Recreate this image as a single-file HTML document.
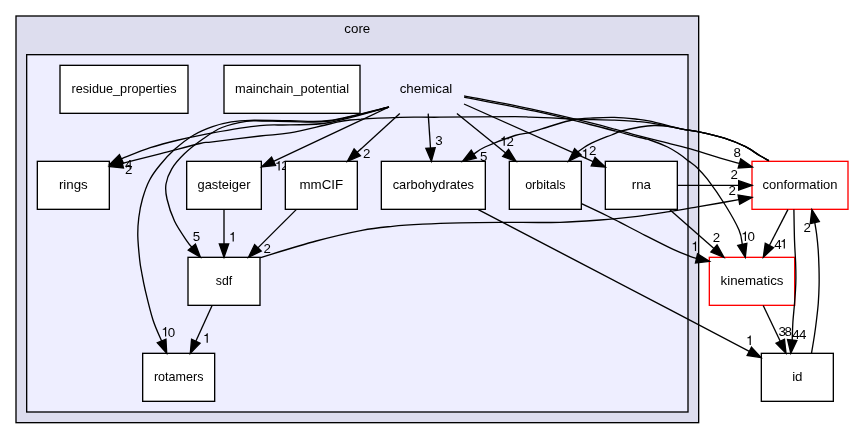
<!DOCTYPE html>
<html><head><meta charset="utf-8"><title>core/chemical</title>
<style>html,body{margin:0;padding:0;background:#fff;}svg{display:block;will-change:transform;}</style>
</head><body>
<svg width="853" height="439" viewBox="0 0 853 439">
<rect x="0" y="0" width="853" height="439" fill="white"/>
<rect x="16.00" y="16.00" width="682.67" height="406.67" fill="#ddddee" stroke="black" stroke-width="1.333"/>
<rect x="26.67" y="54.67" width="661.33" height="357.33" fill="#eeeeff" stroke="black" stroke-width="1.333"/>
<g font-family="Liberation Sans, sans-serif" font-size="13.33px" fill="black" style="will-change:transform">
<text x="357.33" y="33.20" text-anchor="middle">core</text>
<text x="125.00" y="168.90">4</text>
<text x="125.00" y="173.50">2</text>
<path transform="translate(274.90,170.40) scale(0.013333,-0.013333)" d="M359,0 L271,0 L271,505 L101,505 L101,568 C190,572 250,600 292,709 L359,709 Z"/>
<text x="281.30" y="170.40">2</text>
<text x="363.00" y="157.70">2</text>
<text x="435.20" y="145.40">3</text>
<path transform="translate(500.00,145.70) scale(0.013333,-0.013333)" d="M359,0 L271,0 L271,505 L101,505 L101,568 C190,572 250,600 292,709 L359,709 Z"/>
<text x="506.40" y="145.70">2</text>
<text x="480.00" y="161.00">5</text>
<path transform="translate(581.50,158.20) scale(0.013333,-0.013333)" d="M359,0 L271,0 L271,505 L101,505 L101,568 C190,572 250,600 292,709 L359,709 Z"/>
<text x="589.00" y="155.00">2</text>
<text x="733.60" y="156.70">8</text>
<text x="730.50" y="179.00">2</text>
<text x="728.50" y="195.30">2</text>
<text x="192.80" y="241.00">5</text>
<path transform="translate(229.00,241.50) scale(0.013333,-0.013333)" d="M359,0 L271,0 L271,505 L101,505 L101,568 C190,572 250,600 292,709 L359,709 Z"/>
<text x="263.60" y="252.80">2</text>
<path transform="translate(161.40,336.50) scale(0.013333,-0.013333)" d="M359,0 L271,0 L271,505 L101,505 L101,568 C190,572 250,600 292,709 L359,709 Z"/>
<text x="167.80" y="336.50">0</text>
<path transform="translate(203.00,342.80) scale(0.013333,-0.013333)" d="M359,0 L271,0 L271,505 L101,505 L101,568 C190,572 250,600 292,709 L359,709 Z"/>
<text x="712.70" y="242.40">2</text>
<path transform="translate(741.20,241.00) scale(0.013333,-0.013333)" d="M359,0 L271,0 L271,505 L101,505 L101,568 C190,572 250,600 292,709 L359,709 Z"/>
<text x="747.60" y="241.00">0</text>
<text x="774.30" y="248.50">4</text>
<path transform="translate(780.10,248.50) scale(0.013333,-0.013333)" d="M359,0 L271,0 L271,505 L101,505 L101,568 C190,572 250,600 292,709 L359,709 Z"/>
<text x="803.40" y="232.30">2</text>
<path transform="translate(691.30,251.00) scale(0.013333,-0.013333)" d="M359,0 L271,0 L271,505 L101,505 L101,568 C190,572 250,600 292,709 L359,709 Z"/>
<path transform="translate(746.00,345.00) scale(0.013333,-0.013333)" d="M359,0 L271,0 L271,505 L101,505 L101,568 C190,572 250,600 292,709 L359,709 Z"/>
<text x="778.50" y="336.10">3</text>
<text x="784.60" y="336.10">8</text>
<text x="792.30" y="339.20">4</text>
<text x="799.00" y="339.20">4</text>
<rect x="60.00" y="65.33" width="128.00" height="48.00" fill="white" stroke="black" stroke-width="1.333"/>
<text x="124.00" y="92.93" text-anchor="middle" textLength="105.0" lengthAdjust="spacingAndGlyphs">residue_properties</text>
<rect x="224.00" y="65.33" width="136.00" height="48.00" fill="white" stroke="black" stroke-width="1.333"/>
<text x="292.00" y="92.93" text-anchor="middle" textLength="114.0" lengthAdjust="spacingAndGlyphs">mainchain_potential</text>
<text x="426.00" y="92.93" text-anchor="middle">chemical</text>
<rect x="37.33" y="161.33" width="72.00" height="48.00" fill="white" stroke="black" stroke-width="1.333"/>
<text x="73.33" y="188.93" text-anchor="middle">rings</text>
<rect x="186.67" y="161.33" width="74.67" height="48.00" fill="white" stroke="black" stroke-width="1.333"/>
<text x="224.00" y="188.93" text-anchor="middle" textLength="53.0" lengthAdjust="spacingAndGlyphs">gasteiger</text>
<rect x="285.33" y="161.33" width="72.00" height="48.00" fill="white" stroke="black" stroke-width="1.333"/>
<text x="321.33" y="188.93" text-anchor="middle">mmCIF</text>
<rect x="381.33" y="161.33" width="104.00" height="48.00" fill="white" stroke="black" stroke-width="1.333"/>
<text x="433.33" y="188.93" text-anchor="middle" textLength="81.3" lengthAdjust="spacingAndGlyphs">carbohydrates</text>
<rect x="509.33" y="161.33" width="72.00" height="48.00" fill="white" stroke="black" stroke-width="1.333"/>
<text x="545.33" y="188.93" text-anchor="middle" textLength="40.3" lengthAdjust="spacingAndGlyphs">orbitals</text>
<rect x="605.33" y="161.33" width="72.00" height="48.00" fill="white" stroke="black" stroke-width="1.333"/>
<text x="641.33" y="188.93" text-anchor="middle">rna</text>
<rect x="752.00" y="161.33" width="96.00" height="48.00" fill="white" stroke="red" stroke-width="1.333"/>
<text x="800.00" y="188.93" text-anchor="middle" textLength="75.0" lengthAdjust="spacingAndGlyphs">conformation</text>
<rect x="188.00" y="257.33" width="72.00" height="48.00" fill="white" stroke="black" stroke-width="1.333"/>
<text x="224.00" y="284.93" text-anchor="middle" textLength="16.3" lengthAdjust="spacingAndGlyphs">sdf</text>
<rect x="709.33" y="257.33" width="85.33" height="48.00" fill="white" stroke="red" stroke-width="1.333"/>
<text x="752.00" y="284.93" text-anchor="middle">kinematics</text>
<rect x="142.67" y="353.33" width="72.00" height="48.00" fill="white" stroke="black" stroke-width="1.333"/>
<text x="178.67" y="380.93" text-anchor="middle" textLength="49.5" lengthAdjust="spacingAndGlyphs">rotamers</text>
<rect x="761.33" y="353.33" width="72.00" height="48.00" fill="white" stroke="black" stroke-width="1.333"/>
<text x="797.33" y="380.93" text-anchor="middle">id</text>
</g>
<path d="M389.00,107.00 C379.10,109.58 346.13,119.52 329.60,122.50 C313.07,125.48 301.40,124.38 289.80,124.90 C278.20,125.42 272.87,124.28 260.00,125.60 C247.13,126.92 226.18,130.40 212.60,132.80 C199.02,135.20 188.88,137.52 178.50,140.00 C168.12,142.48 159.72,144.60 150.30,147.70 C140.88,150.80 126.81,156.74 122.00,158.60 C117.19,160.46 121.53,158.82 121.44,158.87" fill="none" stroke="black" stroke-width="1.333"/>
<polygon points="109.40,164.60 119.43,154.65 123.44,163.09" fill="black" stroke="black" stroke-width="1.333"/>
<path d="M768.90,160.70 C767.42,159.88 763.90,158.13 760.00,155.80 C756.10,153.47 751.43,149.63 745.50,146.70 C739.57,143.77 732.15,140.67 724.40,138.20 C716.65,135.73 706.03,133.42 699.00,131.90 C691.97,130.38 690.37,130.60 682.20,129.10 C674.03,127.60 657.78,124.18 650.00,122.90 C642.22,121.62 641.43,121.87 635.50,121.40 C629.57,120.93 621.43,120.38 614.40,120.10 C607.37,119.82 600.33,119.88 593.30,119.70 C586.27,119.52 579.25,119.30 572.20,119.00 C565.15,118.70 558.03,118.20 551.00,117.90 C543.97,117.60 536.00,117.42 530.00,117.20 C524.00,116.98 530.00,116.60 515.00,116.60 C500.00,116.60 459.17,117.08 440.00,117.20 C420.83,117.32 415.00,116.83 400.00,117.30 C385.00,117.77 361.73,118.88 350.00,120.00 C338.27,121.12 339.63,121.85 329.60,124.00 C319.57,126.15 301.40,130.90 289.80,132.90 C278.20,134.90 272.87,134.52 260.00,136.00 C247.13,137.48 222.60,140.55 212.60,141.80 C202.60,143.05 208.03,141.68 200.00,143.50 C191.97,145.32 175.23,149.92 164.40,152.70 C153.57,155.48 142.01,158.42 135.00,160.20 C127.99,161.98 124.44,162.84 122.33,163.37" fill="none" stroke="black" stroke-width="1.333"/>
<polygon points="109.40,166.60 121.20,158.84 123.46,167.90" fill="black" stroke="black" stroke-width="1.333"/>
<path d="M389.00,107.00 C379.10,109.25 346.10,118.22 329.60,120.50 C313.10,122.78 303.27,120.73 290.00,120.70 C276.73,120.67 259.78,120.10 250.00,120.30 C240.22,120.50 237.53,120.85 231.30,121.90 C225.07,122.95 218.85,124.42 212.60,126.60 C206.35,128.78 200.07,131.25 193.80,135.00 C187.53,138.75 180.63,144.10 175.00,149.10 C169.37,154.10 164.23,159.85 160.00,165.00 C155.77,170.15 152.52,174.37 149.60,180.00 C146.68,185.63 144.30,192.55 142.50,198.80 C140.70,205.05 139.58,211.25 138.80,217.50 C138.02,223.75 137.65,229.22 137.80,236.30 C137.95,243.38 139.07,254.05 139.70,260.00 C140.33,265.95 140.68,267.00 141.60,272.00 C142.52,277.00 143.30,282.00 145.20,290.00 C147.10,298.00 150.26,311.50 153.00,320.00 C155.74,328.50 160.19,337.48 161.63,340.97" fill="none" stroke="black" stroke-width="1.333"/>
<polygon points="166.70,353.30 157.31,342.75 165.95,339.20" fill="black" stroke="black" stroke-width="1.333"/>
<path d="M389.00,107.00 C379.10,109.33 346.10,118.58 329.60,121.00 C313.10,123.42 301.27,121.50 290.00,121.50 C278.73,121.50 269.28,121.03 262.00,121.00 C254.72,120.97 252.97,120.22 246.30,121.30 C239.63,122.38 229.18,124.58 222.00,127.50 C214.82,130.42 209.47,134.42 203.20,138.80 C196.93,143.18 189.63,148.80 184.40,153.80 C179.17,158.80 174.87,163.77 171.80,168.80 C168.73,173.83 166.80,178.97 166.00,184.00 C165.20,189.03 165.57,192.78 167.00,199.00 C168.43,205.22 171.18,214.15 174.60,221.30 C178.02,228.45 184.63,237.60 187.50,241.90 C190.37,246.20 191.12,246.22 191.84,247.08" fill="none" stroke="black" stroke-width="1.333"/>
<polygon points="200.40,257.30 188.26,250.08 195.42,244.08" fill="black" stroke="black" stroke-width="1.333"/>
<path d="M389.00,107.00 L273.56,161.32" fill="none" stroke="black" stroke-width="1.333"/>
<polygon points="261.50,167.00 271.57,157.10 275.55,165.55" fill="black" stroke="black" stroke-width="1.333"/>
<path d="M399.80,113.60 L357.26,152.33" fill="none" stroke="black" stroke-width="1.333"/>
<polygon points="347.40,161.30 354.11,148.87 360.40,155.78" fill="black" stroke="black" stroke-width="1.333"/>
<path d="M428.20,113.60 L430.51,148.00" fill="none" stroke="black" stroke-width="1.333"/>
<polygon points="431.40,161.30 425.85,148.31 435.17,147.69" fill="black" stroke="black" stroke-width="1.333"/>
<path d="M456.90,113.50 L505.64,152.92" fill="none" stroke="black" stroke-width="1.333"/>
<polygon points="516.00,161.30 502.70,156.55 508.57,149.29" fill="black" stroke="black" stroke-width="1.333"/>
<path d="M464.00,104.00 L593.13,161.57" fill="none" stroke="black" stroke-width="1.333"/>
<polygon points="605.30,167.00 591.22,165.84 595.03,157.31" fill="black" stroke="black" stroke-width="1.333"/>
<path d="M464.10,95.80 C475.92,98.13 514.02,105.32 535.00,109.80 C555.98,114.28 572.50,118.32 590.00,122.70 C607.50,127.08 627.00,132.70 640.00,136.10 C653.00,139.50 660.08,141.08 668.00,143.10 C675.92,145.12 678.78,145.70 687.50,148.20 C696.22,150.70 711.64,155.56 720.30,158.10 C728.96,160.64 736.26,162.54 739.46,163.43" fill="none" stroke="black" stroke-width="1.333"/>
<polygon points="752.30,167.00 738.21,167.93 740.71,158.93" fill="black" stroke="black" stroke-width="1.333"/>
<path d="M464.10,97.10 C475.92,99.45 514.02,106.63 535.00,111.20 C555.98,115.77 572.50,120.12 590.00,124.50 C607.50,128.88 630.00,134.92 640.00,137.50 C650.00,140.08 645.40,138.42 650.00,140.00 C654.60,141.58 662.72,144.67 667.60,147.00 C672.48,149.33 675.78,151.65 679.30,154.00 C682.82,156.35 685.77,158.85 688.70,161.10 C691.63,163.35 693.78,164.48 696.90,167.50 C700.02,170.52 702.68,172.95 707.40,179.20 C712.12,185.45 719.93,196.53 725.20,205.00 C730.47,213.47 736.15,223.45 739.00,230.00 C741.85,236.55 741.75,241.93 742.30,244.31" fill="none" stroke="black" stroke-width="1.333"/>
<polygon points="745.30,257.30 737.75,245.36 746.85,243.26" fill="black" stroke="black" stroke-width="1.333"/>
<path d="M768.90,160.70 C767.42,159.88 763.90,158.13 760.00,155.80 C756.10,153.47 751.43,149.63 745.50,146.70 C739.57,143.77 732.15,140.67 724.40,138.20 C716.65,135.73 706.03,133.42 699.00,131.90 C691.97,130.38 690.37,130.90 682.20,129.10 C674.03,127.30 657.78,122.78 650.00,121.10 C642.22,119.42 641.43,119.62 635.50,119.00 C629.57,118.38 621.43,117.57 614.40,117.40 C607.37,117.23 600.33,117.57 593.30,118.00 C586.27,118.43 579.25,118.67 572.20,120.00 C565.15,121.33 558.03,123.90 551.00,126.00 C543.97,128.10 536.00,131.02 530.00,132.60 C524.00,134.18 522.50,133.10 515.00,135.50 C507.50,137.90 491.87,143.89 485.00,147.00 C478.13,150.11 475.63,152.96 473.75,154.15" fill="none" stroke="black" stroke-width="1.333"/>
<polygon points="462.50,161.30 471.25,150.21 476.26,158.09" fill="black" stroke="black" stroke-width="1.333"/>
<path d="M768.90,160.70 C767.42,159.88 763.90,158.13 760.00,155.80 C756.10,153.47 751.43,149.63 745.50,146.70 C739.57,143.77 732.15,140.67 724.40,138.20 C716.65,135.73 706.03,133.42 699.00,131.90 C691.97,130.38 687.37,130.03 682.20,129.10 C677.03,128.17 672.70,126.90 668.00,126.30 C663.30,125.70 658.67,125.38 654.00,125.50 C649.33,125.62 645.43,126.08 640.00,127.00 C634.57,127.92 626.15,129.67 621.40,131.00 C616.65,132.33 614.97,133.65 611.50,135.00 C608.03,136.35 603.93,137.73 600.60,139.10 C597.27,140.47 594.27,141.80 591.50,143.20 C588.73,144.60 586.27,146.05 584.00,147.50 C581.73,148.95 578.91,151.17 577.90,151.90 C576.89,152.63 577.92,151.88 577.93,151.87" fill="none" stroke="black" stroke-width="1.333"/>
<polygon points="568.50,161.30 574.62,148.57 581.23,155.18" fill="black" stroke="black" stroke-width="1.333"/>
<path d="M677.33,185.30 L738.67,185.30" fill="none" stroke="black" stroke-width="1.333"/>
<polygon points="752.00,185.30 738.67,189.97 738.67,180.63" fill="black" stroke="black" stroke-width="1.333"/>
<path d="M259.80,257.70 C269.20,254.92 299.18,245.57 316.20,241.00 C333.22,236.43 349.20,232.75 361.90,230.30 C374.60,227.85 382.23,227.32 392.40,226.30 C402.57,225.28 411.63,224.77 422.90,224.20 C434.17,223.63 447.15,223.20 460.00,222.90 C472.85,222.60 483.33,222.50 500.00,222.40 C516.67,222.30 543.33,222.70 560.00,222.30 C576.67,221.90 587.08,221.00 600.00,220.00 C612.92,219.00 625.93,217.70 637.50,216.30 C649.07,214.90 659.40,213.17 669.40,211.60 C679.40,210.03 689.07,208.33 697.50,206.90 C705.93,205.47 713.12,204.22 720.00,203.00 C726.88,201.78 735.66,200.17 738.80,199.60 C741.94,199.03 738.86,199.59 738.87,199.59" fill="none" stroke="black" stroke-width="1.333"/>
<polygon points="752.00,197.30 739.67,204.19 738.07,194.99" fill="black" stroke="black" stroke-width="1.333"/>
<path d="M669.60,209.60 L713.98,248.51" fill="none" stroke="black" stroke-width="1.333"/>
<polygon points="724.00,257.30 710.90,252.02 717.06,245.00" fill="black" stroke="black" stroke-width="1.333"/>
<path d="M581.33,203.60 C585.69,205.67 596.89,210.72 607.50,216.00 C618.11,221.28 634.05,229.73 645.00,235.30 C655.95,240.87 665.70,245.90 673.20,249.40 C680.70,252.90 686.12,254.80 690.00,256.30 C693.88,257.80 695.42,258.05 696.50,258.40 C697.58,258.75 696.49,258.40 696.49,258.40" fill="none" stroke="black" stroke-width="1.333"/>
<polygon points="709.50,261.30 695.47,262.96 697.51,253.84" fill="black" stroke="black" stroke-width="1.333"/>
<path d="M478.30,209.60 C510.30,226.30 625.13,286.17 670.30,309.80 C715.47,333.43 736.14,344.46 749.30,351.39" fill="none" stroke="black" stroke-width="1.333"/>
<polygon points="761.10,357.60 747.13,355.52 751.48,347.26" fill="black" stroke="black" stroke-width="1.333"/>
<path d="M763.20,305.50 L780.26,341.27" fill="none" stroke="black" stroke-width="1.333"/>
<polygon points="786.00,353.30 776.05,343.28 784.48,339.26" fill="black" stroke="black" stroke-width="1.333"/>
<path d="M787.90,209.60 L769.41,245.45" fill="none" stroke="black" stroke-width="1.333"/>
<polygon points="763.30,257.30 765.26,243.31 773.56,247.59" fill="black" stroke="black" stroke-width="1.333"/>
<path d="M793.90,209.60 C794.00,214.67 794.22,231.27 794.50,240.00 C794.78,248.73 795.37,255.67 795.60,262.00 C795.83,268.33 795.92,273.33 795.90,278.00 C795.88,282.67 795.75,285.50 795.50,290.00 C795.25,294.50 794.83,299.67 794.40,305.00 C793.97,310.33 793.27,316.17 792.90,322.00 C792.53,327.83 792.32,336.99 792.20,340.00 C792.08,343.01 792.20,340.04 792.20,340.04" fill="none" stroke="black" stroke-width="1.333"/>
<polygon points="790.80,353.30 787.55,339.55 796.84,340.53" fill="black" stroke="black" stroke-width="1.333"/>
<path d="M811.50,353.30 C812.00,350.25 813.67,340.55 814.50,335.00 C815.33,329.45 815.87,325.33 816.50,320.00 C817.13,314.67 817.87,308.83 818.30,303.00 C818.73,297.17 818.98,290.83 819.10,285.00 C819.22,279.17 819.15,273.83 819.00,268.00 C818.85,262.17 818.60,255.67 818.20,250.00 C817.80,244.33 817.17,238.55 816.60,234.00 C816.03,229.45 815.10,224.60 814.80,222.70 C814.50,220.80 814.78,222.63 814.78,222.61" fill="none" stroke="black" stroke-width="1.333"/>
<polygon points="811.90,209.60 819.34,221.61 810.22,223.62" fill="black" stroke="black" stroke-width="1.333"/>
<path d="M224.00,209.60 L224.00,243.97" fill="none" stroke="black" stroke-width="1.333"/>
<polygon points="224.00,257.30 219.33,243.97 228.67,243.97" fill="black" stroke="black" stroke-width="1.333"/>
<path d="M296.20,209.60 L257.93,247.87" fill="none" stroke="black" stroke-width="1.333"/>
<polygon points="248.50,257.30 254.62,244.57 261.23,251.18" fill="black" stroke="black" stroke-width="1.333"/>
<path d="M212.10,305.50 L195.83,341.17" fill="none" stroke="black" stroke-width="1.333"/>
<polygon points="190.30,353.30 191.58,339.23 200.08,343.11" fill="black" stroke="black" stroke-width="1.333"/>
</svg>
</body></html>
